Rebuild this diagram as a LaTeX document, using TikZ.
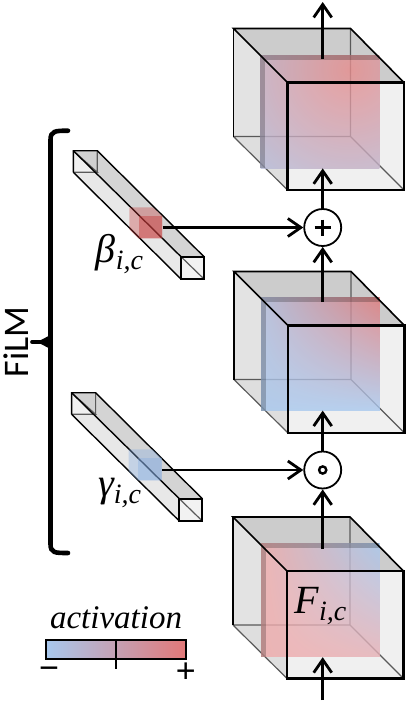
\documentclass[tikz,border=0pt]{standalone}
\usepackage{fontspec}
\setsansfont{Carlito}
\newfontfamily\labelfont{Liberation Serif}
\newfontfamily\signfont{Liberation Sans}
\usetikzlibrary{
    arrows.meta,
    positioning,
    shadings,
    calc
}
\definecolor{actblue}{RGB}{168,200,238}
\definecolor{actred}{RGB}{226,120,120}
\definecolor{actpink}{RGB}{240,170,170}
\definecolor{patchred}{RGB}{200,60,60}
\definecolor{patchblue}{RGB}{130,170,225}

\begin{document}
\begin{tikzpicture}[
    x=0.5pt,
    y=-0.5pt,
    >={Straight Barb[length=6.5pt,width=9pt]},
    font=\sffamily,
    wire/.style={->, line width=1.4pt},
    backedge/.style={draw=black!65, line width=0.6pt},
    frontedge/.style={draw=black, line width=1.1pt},
    plane/.style={rectangle, inner sep=0pt, minimum width=59.3pt, minimum height=56.5pt, opacity=0.8},
    stripe/.style={fill=black, fill opacity=0.22},
    operator/.style={circle, draw, line width=0.9pt, fill=white, minimum size=18.5pt, inner sep=0pt},
    label/.style={font=\labelfont\itshape\fontsize{20}{20}\selectfont, inner sep=0pt},
    scaletext/.style={font=\labelfont\itshape\fontsize{16.5}{16.5}\selectfont, inner sep=0pt},
    sign/.style={font=\signfont\fontsize{17}{17}\selectfont, inner sep=0pt},
    bracket/.style={line width=2.3pt, line cap=round},
    cubeback/.pic={
        \fill[black!11] (0,0) -- (54,54) -- (54,161.5) -- (0,108) -- cycle;
        \fill[black!6] (117,0) -- (170.5,54) -- (170.5,161.5) -- (117,108) -- cycle;
        \fill[black!13] (0,108) -- (117,108) -- (170.5,161.5) -- (54,161.5) -- cycle;
        \fill[black!20] (0,0) -- (117,0) -- (170.5,54) -- (54,54) -- cycle;
        \fill[black!6] (54,54) rectangle (170.5,161.5);
        \draw[backedge] (117,0) -- (117,108) (0,108) -- (117,108) -- (170.5,161.5) (0,108) -- (54,161.5);
    },
    cubefront/.pic={
        \draw[frontedge, line width=0.8pt] (54,54) -- (0,0) -- (117,0) -- (170.5,54);
        \draw[frontedge, line width=0.8pt] (0,0) -- (0,108);
        \draw[frontedge] (54,54) rectangle (170.5,161.5);
    },
    barback/.pic={
        \fill[black!9] (0,0) -- (107.7,106) -- (107.7,128.3) -- (0,21.6) -- cycle;
        \fill[black!17] (0,0) -- (24,0) -- (130.7,106) -- (107.7,106) -- cycle;
        \fill[black!6] (0,0) -- (24,21.6) -- (0,21.6) -- cycle;
        \fill[black!18] (0,0) -- (24,0) -- (24,21.6) -- cycle;
        \fill[black!5] (107.7,106) rectangle (130.7,128.3);
        \draw[backedge] (0,0) -- (24,21.6) -- (0,21.6) (24,0) -- (24,21.6) (107.7,106) -- (130.7,128.3);
        \draw[line width=0.7pt] (0,21.6) -- (0,0) -- (24,0) -- (130.7,106);
        \draw[line width=0.7pt] (0,0) -- (107.7,106) (0,21.6) -- (107.7,128.3);
        \draw[line width=0.9pt] (107.7,106) rectangle (130.7,128.3);
    }
]
\useasboundingbox (0,0) rectangle (407,702);

% ---------------------------------------------------------------- Cubes
\pic at (233.5,28.5) {cubeback};
\pic at (234.0,271.5) {cubeback};
\pic at (233.0,517.0) {cubeback};

% ---------------------------------------------------------------- Activation planes
\node[plane, path picture={
    \shade[inner color=actred!85!white, outer color=actblue] (30,-42) circle (170);
}] (planeTop) at (320.0,111.5) {};
\node[plane, shade, lower left=actblue, lower right=actblue, upper left=actblue!85!actred, upper right=actred] (planeMid) at (320.5,353.7) {};
\node[plane, shade, lower left=actpink, lower right=actpink!85!actblue, upper left=actpink, upper right=actblue] (planeBot) at (320.5,600.3) {};

\fill[stripe] (planeTop.north west) rectangle ++(118.6,5);
\fill[stripe] (planeTop.north west) ++(0,5) rectangle ($(planeTop.south west)+(5,0)$);
\fill[stripe] (planeMid.north west) rectangle ++(118.6,5);
\fill[stripe] (planeMid.north west) ++(0,5) rectangle ($(planeMid.south west)+(5,0)$);
\fill[stripe] (planeBot.north west) rectangle ++(118.6,5);
\fill[stripe] (planeBot.north west) ++(0,5) rectangle ($(planeBot.south west)+(5,0)$);

\pic at (233.5,28.5) {cubefront};
\pic at (234.0,271.5) {cubefront};
\pic at (233.0,517.0) {cubefront};

% ---------------------------------------------------------------- FiLM bars
\pic at (73.3,150.7) {barback};
\pic at (71.6,392.7) {barback};

\fill[patchred, opacity=0.35] (129.3,207.3) -- (153,207.3) -- (162.3,216) -- (162.3,238.5) -- (138.5,238.5) -- (129.3,229.5) -- cycle;
\fill[patchblue, opacity=0.35] (128.7,449.3) -- (152.4,449.3) -- (161.7,458) -- (161.7,480.5) -- (137.9,480.5) -- (128.7,471.5) -- cycle;
\node[rectangle, inner sep=0pt, minimum width=11.9pt, minimum height=11.25pt, fill=patchred, opacity=0.45] (betaPatch) at (150.4,227.2) {};
\node[rectangle, inner sep=0pt, minimum width=11.9pt, minimum height=11.25pt, fill=patchblue, opacity=0.35] (gammaPatch) at (149.8,469.2) {};

% ---------------------------------------------------------------- Operators
\node[operator] (plusOp) at (322.7,227.5) {};
\node[operator] (dotOp)  at (322.7,470.0) {};
\draw[line width=1.7pt] (plusOp.center) ++(-8,0) -- ++(16,0) (plusOp.center) ++(0,-8) -- ++(0,16);
\node[circle, draw, line width=1.2pt, inner sep=0pt, minimum size=3.6pt] (dotMark) at (dotOp.center) {};

% ---------------------------------------------------------------- Labels
\node[label] (betaLabel) at (120,254) {β\textsubscript{i,c}};
\node[label] (gammaLabel) at (120,493) {γ\textsubscript{i,c}};
\node[label] (featLabel) at (321,606) {F\textsubscript{i,c}};
\node[font=\sffamily\fontsize{18}{18}\selectfont, rotate=90, inner sep=0pt] (filmLabel) at (16,342) {FiLM};

% ---------------------------------------------------------------- Bracket
\coordinate (bracketTop) at (68,130.7);
\coordinate (bracketTip) at (32,342);
\coordinate (bracketMid) at (50.5,342);
\coordinate (bracketBot) at (68,553);
\draw[bracket] (bracketTop) .. controls (55,130.7) and (50.5,131) .. (50.5,140) -- (50.5,544)
    .. controls (50.5,553) and (55,553) .. (bracketBot);
\draw[bracket, line width=1.8pt] (bracketTip) -- (bracketMid);
\fill (40,340.5) -- (50.5,335) -- (50.5,349) -- (40,343.5) -- cycle;

% ---------------------------------------------------------------- Connections
\coordinate (inFree) at (322.7,700);
\coordinate (outFree) at (322.7,2);
\coordinate (outTop) at (322.7,59);
\coordinate (outMid) at (322.7,302);
\coordinate (outBot) at (322.7,549);
\draw[wire] (inFree) -- (inFree |- planeBot.south) ;
\draw[wire] (outBot) -- (dotOp);
\draw[wire] (dotOp) -- (dotOp |- planeMid.south);
\draw[wire] (outMid) -- (plusOp);
\draw[wire] (plusOp) -- (plusOp |- planeTop.south);
\draw[wire] (outTop) -- (outFree);
\draw[wire] (betaPatch.east |- plusOp) -- (plusOp);
\draw[wire] (gammaPatch.east |- dotOp) -- (dotOp);

% ---------------------------------------------------------------- Colour scale
\node[rectangle, draw, line width=0.9pt, minimum width=70pt, minimum height=9.5pt, inner sep=0pt,
    left color=actblue, right color=actred] (scaleBar) at (116,649.5) {};
\draw[line width=0.8pt] (scaleBar.north) -- ++(0,30);
\node[scaletext, above=5pt of scaleBar] (scaleLabel) {activation};
\node[sign] (scaleMinus) at (49,673) {−};
\node[sign] (scalePlus) at (185.7,673) {+};

\end{tikzpicture}
\end{document}
